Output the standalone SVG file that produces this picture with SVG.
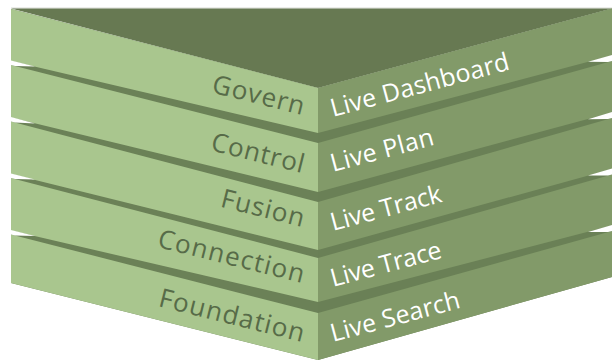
<svg xmlns="http://www.w3.org/2000/svg" width="612" height="361" viewBox="0 0 612 361">
  <style>
    .face-l { fill: #a9c68e; }
    .face-r { fill: #829a69; }
    .band-l { fill: #6b8157; }
    .band-r { fill: #6a8056; }
    .notch { fill: #ffffff; }
    .lbl-l { font-family: "Open Sans", "Noto Sans", sans-serif; font-size: 26px; fill: #576b48; text-anchor: end; }
    .lbl-r { font-family: "Open Sans", "Noto Sans", sans-serif; font-size: 25px; fill: #ffffff; }
  </style>
  <rect width="612" height="361" fill="#ffffff"/>
  <rect x="11" y="7.5" width="601" height="1" fill="#dadcd6"/>

  <!-- underlay so that shared polygon edges do not show seams -->
  <polygon class="band-l" points="11,9 318,88 318,360 11,283"/>
  <polygon class="band-r" points="318,88 612,8.5 612,277 318,360"/>

  <!-- top face of the stack -->
  <polygon id="top-face" fill="#677952" points="11,8.5 612,8.5 612,8.5 318,88"/>

  <g id="layer-govern">
    <polygon class="face-l" points="11,9 318,88 318,133 11,61"/>
    <polygon class="face-r" points="318,88 612,8.5 612,55.5 318,133"/>
    <text class="lbl-l" x="302" y="115" textLength="94" lengthAdjust="spacing" transform="rotate(14 302 115)">Govern</text>
    <text class="lbl-r" x="333" y="117" textLength="184" lengthAdjust="spacing" transform="rotate(-15 333 117)">Live Dashboard</text>
  </g>

  <g id="layer-control">
    <polygon class="face-l" points="11,65 318,143 318,192 11,117.5"/>
    <polygon class="face-r" points="318,143 612,61 612,112.5 318,192"/>
    <polygon class="notch" points="11,60.5 35,66.6 15,66 11,65"/>
    <polygon class="notch" points="612,55 588,61.8 608,62.1 612,61"/>
    <text class="lbl-l" x="302" y="173" textLength="95" lengthAdjust="spacing" transform="rotate(14 302 173)">Control</text>
    <text class="lbl-r" x="333" y="172" textLength="106" lengthAdjust="spacing" transform="rotate(-15 333 172)">Live Plan</text>
  </g>

  <g id="layer-fusion">
    <polygon class="face-l" points="11,121.5 318,202 318,250 11,174"/>
    <polygon class="face-r" points="318,202 612,118 612,169 318,250"/>
    <polygon class="notch" points="11,117 35,123.5 15,122.5 11,121.5"/>
    <polygon class="notch" points="612,112 588,119.2 608,119.1 612,118"/>
    <text class="lbl-l" x="302" y="227" textLength="85" lengthAdjust="spacing" transform="rotate(14 302 227)">Fusion</text>
    <text class="lbl-r" x="333" y="231" textLength="114" lengthAdjust="spacing" transform="rotate(-15 333 231)">Live Track</text>
  </g>

  <g id="layer-connection">
    <polygon class="face-l" points="11,178 318,258 318,302 11,230.5"/>
    <polygon class="face-r" points="318,258 612,174.5 612,225.5 318,302"/>
    <polygon class="notch" points="11,173.5 35,179.6 15,179 11,178"/>
    <polygon class="notch" points="612,168.5 588,175.6 608,175.6 612,174.5"/>
    <text class="lbl-l" x="302" y="283" textLength="150" lengthAdjust="spacing" transform="rotate(14 302 283)">Connection</text>
    <text class="lbl-r" x="333" y="287" textLength="114" lengthAdjust="spacing" transform="rotate(-15 333 287)">Live Trace</text>
  </g>

  <g id="layer-foundation">
    <polygon class="face-l" points="11,234.5 318,313 318,360 11,283"/>
    <polygon class="face-r" points="318,313 612,231 612,277 318,360"/>
    <polygon class="notch" points="11,230 35,236.1 15,235.5 11,234.5"/>
    <polygon class="notch" points="612,225 588,232 608,232.1 612,231"/>
    <text class="lbl-l" x="302" y="342" textLength="149" lengthAdjust="spacing" transform="rotate(14 302 342)">Foundation</text>
    <text class="lbl-r" x="333" y="342" textLength="133" lengthAdjust="spacing" transform="rotate(-15 333 342)">Live Search</text>
  </g>
</svg>
